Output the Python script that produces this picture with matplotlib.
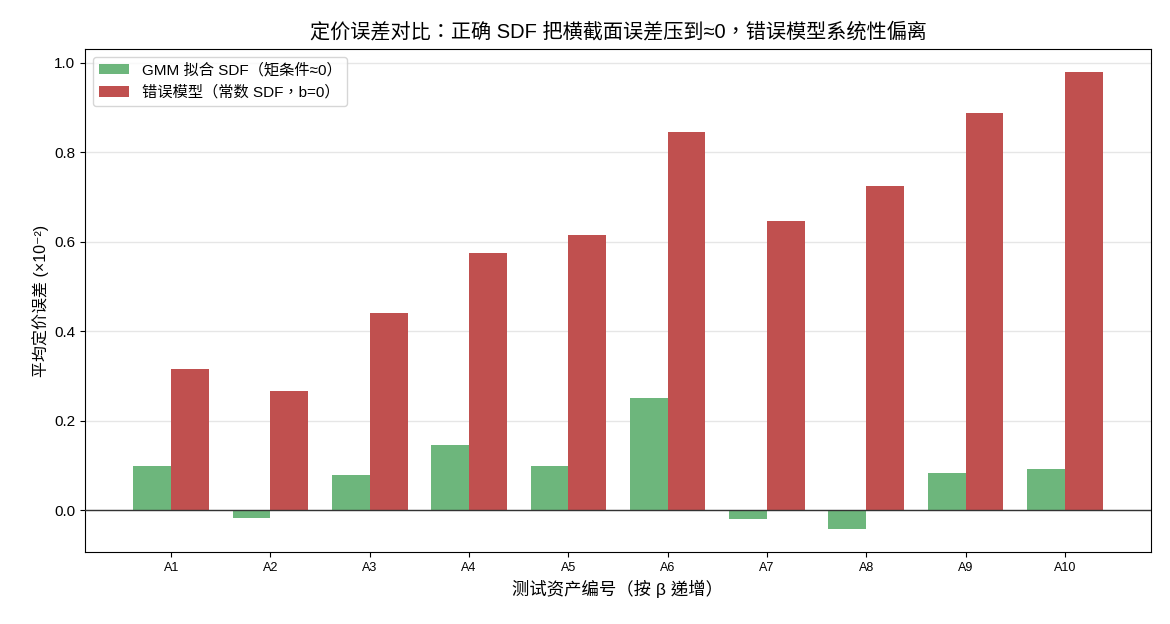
import matplotlib
matplotlib.use("Agg")
import matplotlib.pyplot as plt
import numpy as np

plt.rcParams['font.family'] = ['Liberation Sans', 'Noto Sans CJK TC', 'DejaVu Sans']
plt.rcParams['axes.unicode_minus'] = False

categories = ["A1", "A2", "A3", "A4", "A5", "A6", "A7", "A8", "A9", "A10"]
gmm_vals = [0.098, -0.017, 0.080, 0.145, 0.098, 0.252, -0.019, -0.042, 0.083, 0.092]
wrong_vals = [0.317, 0.266, 0.440, 0.576, 0.616, 0.846, 0.647, 0.725, 0.888, 0.980]

label_gmm = "GMM 拟合 SDF（矩条件≈0）"
label_wrong = "错误模型（常数 SDF，b=0）"
title = "定价误差对比：正确 SDF 把横截面误差压到≈0，错误模型系统性偏离"
xlabel = "测试资产编号（按 β 递增）"
ylabel = "平均定价误差 (×10⁻²)"

fig = plt.figure(figsize=(11.7, 6.24), dpi=100)
ax = fig.add_axes([85/1170, 1-552/624, (1151-85)/1170, (552-49)/624])

x = np.arange(len(categories))
w = 0.38
ax.bar(x - w/2, gmm_vals, w, color="#6db67c", label=label_gmm, zorder=2)
ax.bar(x + w/2, wrong_vals, w, color="#c0504f", label=label_wrong, zorder=2)
ax.axhline(0, color="#333333", linewidth=1.0, zorder=3)

ax.set_xticks(x)
ax.set_xticklabels(categories, fontsize=9)
ax.tick_params(axis='y', labelsize=11)
ax.set_yticks([0.0, 0.2, 0.4, 0.6, 0.8, 1.0])
ax.grid(axis='y', color="#e6e6e6", linewidth=1.0, zorder=0)
ax.set_axisbelow(True)

ax.set_title(title, fontsize=14.5, pad=8)
ax.set_xlabel(xlabel, fontsize=12.5)
ax.set_ylabel(ylabel, fontsize=11.5)

ax.legend(loc="upper left", fontsize=11, framealpha=0.8, edgecolor="#cccccc")

fig.savefig("out.png", dpi=100)
